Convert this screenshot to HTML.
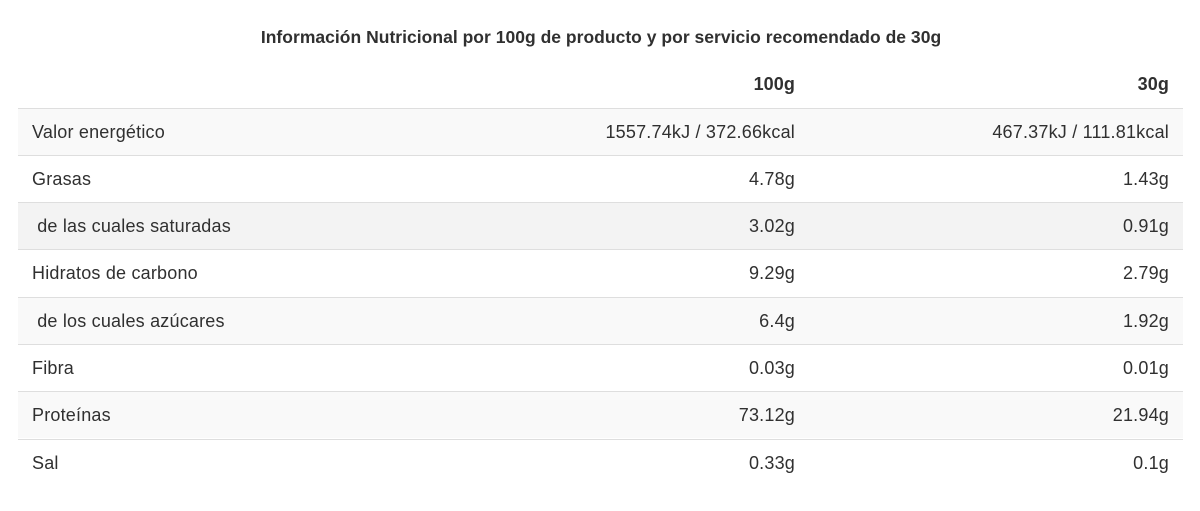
<!DOCTYPE html>
<html>
<head>
<meta charset="utf-8">
<style>
html,body{margin:0;padding:0;background:#fff;}
body{width:1200px;height:511px;position:relative;overflow:hidden;font-family:"Liberation Sans",Arial,sans-serif;color:#303030;}
.title{position:absolute;left:0;width:1202px;top:22px;height:30px;line-height:30px;text-align:center;font-weight:bold;font-size:17.5px;letter-spacing:0.02px;color:#303030;}
.hdr{position:absolute;left:18px;width:1165px;top:60px;height:48px;line-height:48px;font-weight:bold;font-size:18px;letter-spacing:0.1px;}
.row{position:absolute;left:18px;width:1165px;height:47px;line-height:46.5px;font-size:18px;letter-spacing:0.2px;border-top:1px solid #dedede;box-sizing:border-box;}
.row .l,.hdr .l{position:absolute;left:14px;top:0;white-space:pre;}
.row .a,.hdr .a{position:absolute;right:388px;top:0;text-align:right;white-space:nowrap;}
.row .b,.hdr .b{position:absolute;right:14px;top:0;text-align:right;white-space:nowrap;}
.s1{background:#f9f9f9;}
.s2{background:#f3f3f3;}
</style>
</head>
<body>
<div class="title">Información Nutricional por 100g de producto y por servicio recomendado de 30g</div>
<div class="hdr"><span class="a">100g</span><span class="b">30g</span></div>

<div class="row s1" style="top:107.5px;"><span class="l">Valor energético</span><span class="a">1557.74kJ / 372.66kcal</span><span class="b">467.37kJ / 111.81kcal</span></div>
<div class="row" style="top:154.8px;"><span class="l">Grasas</span><span class="a">4.78g</span><span class="b">1.43g</span></div>
<div class="row s2" style="top:202.1px;"><span class="l"> de las cuales saturadas</span><span class="a">3.02g</span><span class="b">0.91g</span></div>
<div class="row" style="top:249.4px;"><span class="l">Hidratos de carbono</span><span class="a">9.29g</span><span class="b">2.79g</span></div>
<div class="row s1" style="top:296.7px;"><span class="l"> de los cuales azúcares</span><span class="a">6.4g</span><span class="b">1.92g</span></div>
<div class="row" style="top:344px;"><span class="l">Fibra</span><span class="a">0.03g</span><span class="b">0.01g</span></div>
<div class="row s1" style="top:391.3px;"><span class="l">Proteínas</span><span class="a">73.12g</span><span class="b">21.94g</span></div>
<div class="row" style="top:438.6px;"><span class="l">Sal</span><span class="a">0.33g</span><span class="b">0.1g</span></div>
</body>
</html>
